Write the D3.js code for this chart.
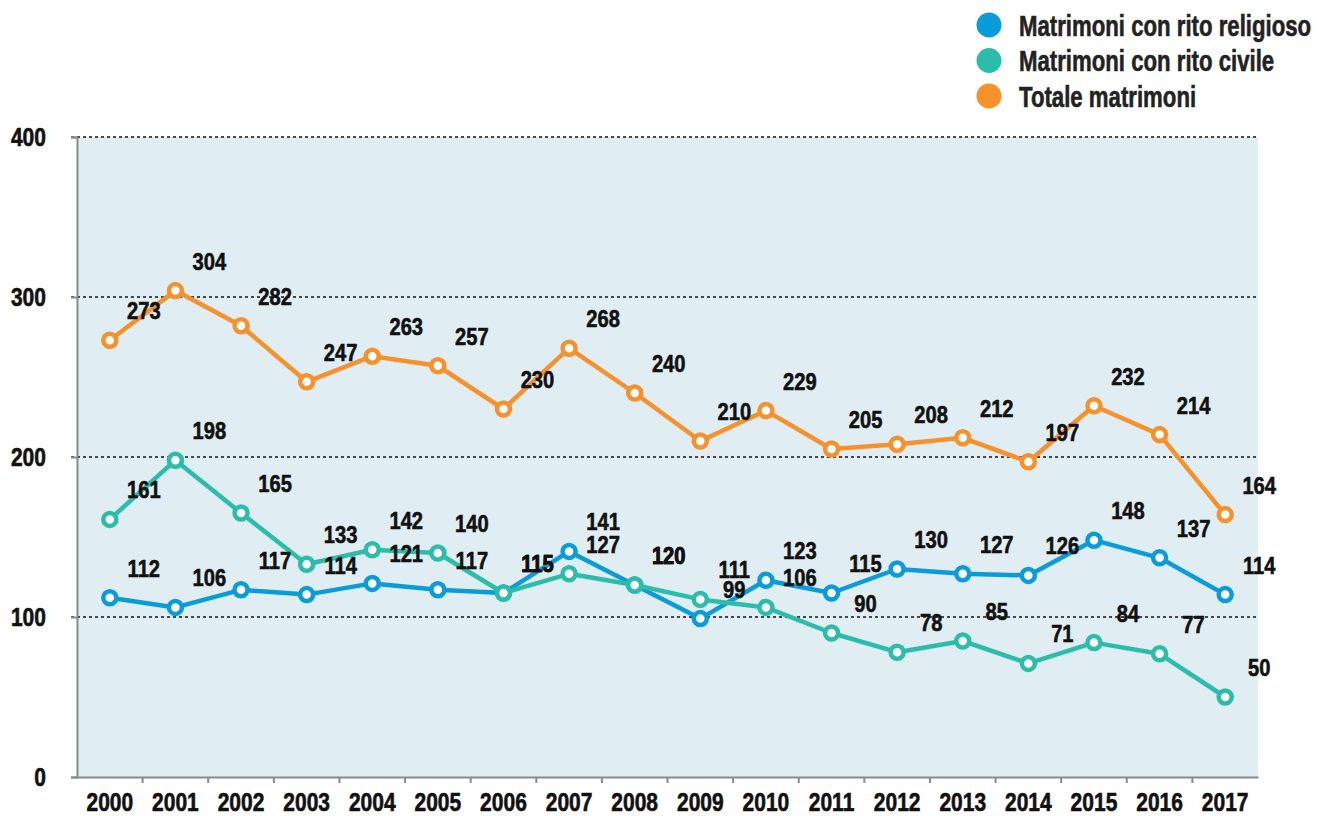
<!DOCTYPE html>
<html>
<head>
<meta charset="utf-8">
<script src="https://cdn.jsdelivr.net/npm/d3@7"></script>
<style>
  body { margin: 0; background: #fff; }
  text { font-family: "Liberation Sans", Arial, sans-serif; font-weight: bold; stroke-width: 0.6px; }
</style>
</head>
<body>
<script>
var years = ["2000","2001","2002","2003","2004","2005","2006","2007","2008","2009","2010","2011","2012","2013","2014","2015","2016","2017"];
var religioso = [112,106,117,114,121,117,115,141,120,99,123,115,130,127,126,148,137,114];
var civile = [161,198,165,133,142,140,115,127,120,111,106,90,78,85,71,84,77,50];
var totale = [273,304,282,247,263,257,230,268,240,210,229,205,208,212,197,232,214,164];
var yTicks = [0,100,200,300,400];

var series = [
  {name: "Matrimoni con rito religioso", color: "#0a9bd9", values: religioso},
  {name: "Matrimoni con rito civile", color: "#2bbdaa", values: civile},
  {name: "Totale matrimoni", color: "#f6912c", values: totale}
];

// condensed look: squeeze the text horizontally
var squeeze = 0.84;

var W = 1317, H = 816;
var margin = {top: 137, right: 59, bottom: 39, left: 77};
var width = W - margin.left - margin.right,
    height = H - margin.top - margin.bottom;

var svg = d3.select("body").append("svg")
  .attr("width", W).attr("height", H);

var g = svg.append("g")
  .attr("transform", "translate(" + margin.left + "," + margin.top + ")");

var x = d3.scaleBand().domain(years).range([0, width]);
var y = d3.scaleLinear().domain([0, 400]).range([height, 0]);

// background
g.append("rect")
  .attr("x", 0).attr("y", 0)
  .attr("width", width).attr("height", height)
  .style("fill", "#e0eef4");

// grid
g.selectAll(".grid")
  .data(yTicks.filter(function(d){ return d > 0; }))
  .enter().append("line")
  .attr("x1", -6).attr("x2", width)
  .attr("y1", function(d){ return y(d); })
  .attr("y2", function(d){ return y(d); })
  .style("stroke", "#111")
  .style("stroke-width", 1.3)
  .style("stroke-dasharray", "3,3");

// y axis
var yAxis = d3.axisLeft(y).tickValues(yTicks).tickSize(6).tickPadding(31);
var ya = g.append("g").call(yAxis);
ya.select(".domain").style("stroke", "#8a8a8a").style("stroke-width", 2);
ya.selectAll(".tick line").style("stroke", "#8a8a8a").style("stroke-width", 2);
ya.selectAll(".tick text")
  .style("font-size", "25px").style("fill", "#111").style("stroke", "#111")
  .attr("transform", "scale(" + squeeze + ",1)");

// x axis
var xAxis = d3.axisBottom(x).tickSize(0).tickPadding(16);
var xa = g.append("g").attr("transform", "translate(0," + height + ")").call(xAxis);
xa.select(".domain").style("stroke", "#8a8a8a").style("stroke-width", 2);
xa.selectAll(".tick text")
  .style("font-size", "25px").style("fill", "#111").style("stroke", "#111")
  .attr("transform", "scale(" + squeeze + ",1)");
xa.selectAll(".sep")
  .data(years.slice(1))
  .enter().append("line")
  .attr("x1", function(d){ return x(d); })
  .attr("x2", function(d){ return x(d); })
  .attr("y1", 0).attr("y2", 6)
  .style("stroke", "#8a8a8a").style("stroke-width", 2);

var cx = function(i){ return x(years[i]) + x.bandwidth() / 2; };

var line = d3.line()
  .x(function(d, i){ return cx(i); })
  .y(function(d){ return y(d); });

series.forEach(function(s){
  g.append("path")
    .datum(s.values)
    .attr("d", line)
    .style("fill", "none")
    .style("stroke", s.color)
    .style("stroke-width", 4.5)
    .style("stroke-linejoin", "round");

  g.selectAll(null)
    .data(s.values)
    .enter().append("circle")
    .attr("cx", function(d, i){ return cx(i); })
    .attr("cy", function(d){ return y(d); })
    .attr("r", 6.5)
    .style("fill", "#fff")
    .style("stroke", s.color)
    .style("stroke-width", 4.5);
});

// value labels, up and right of each point
series.forEach(function(s){
  g.selectAll(null)
    .data(s.values)
    .enter().append("g")
    .attr("transform", function(d, i){ return "translate(" + (cx(i) + 34) + "," + (y(d) - 21) + ")"; })
    .append("text")
    .attr("text-anchor", "middle")
    .attr("transform", "scale(" + squeeze + ",1)")
    .style("font-size", "24px")
    .style("fill", "#111").style("stroke", "#111")
    .text(function(d){ return d; });
});

// legend
var legend = svg.selectAll(".legend")
  .data(series)
  .enter().append("g")
  .attr("transform", function(d, i){ return "translate(989," + (25 + i * 35.5) + ")"; });

legend.append("circle")
  .attr("r", 12.5)
  .style("fill", function(d){ return d.color; });

legend.append("g")
  .attr("transform", "translate(30,0)")
  .append("text")
  .attr("dy", "0.36em")
  .attr("transform", "scale(0.74,1)")
  .style("font-size", "30px")
  .style("fill", "#222").style("stroke", "#222")
  .text(function(d){ return d.name; });
</script>
</body>
</html>
